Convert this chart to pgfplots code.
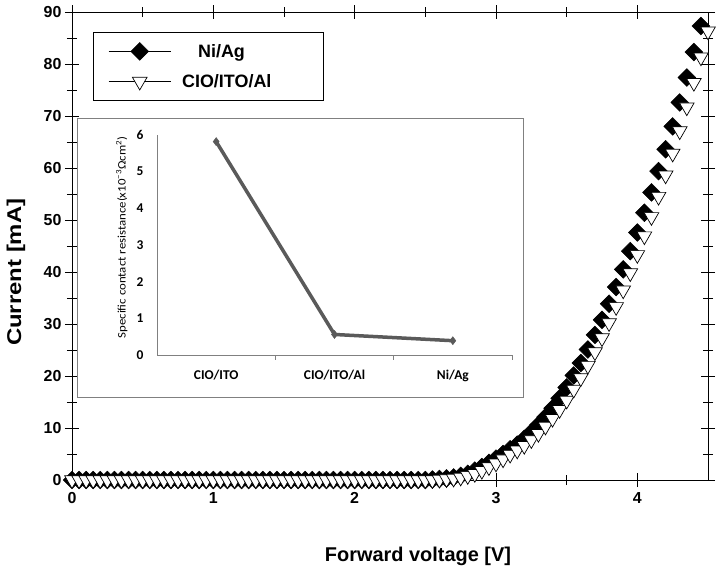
\documentclass[border=0pt]{standalone}
\usepackage{fontspec}
\setmainfont{Liberation Sans}
\newfontfamily\carlito{Carlito}
\usepackage{graphicx}
\usepackage{pgfplots}
\pgfplotsset{compat=1.18}
\usepackage{pgfplotstable}

\pgfplotsset{
  linemarklegend/.style={legend image code/.code={\draw[black, line width=0.7bp] (0bp,0bp) -- (62bp,0bp);
    \draw[##1] plot coordinates {(31bp,0bp)};}}
}

\pgfplotstableread{
V I
0.00 0
0.05 0
0.10 0
0.15 0
0.20 0
0.25 0
0.30 0
0.35 0
0.40 0
0.45 0
0.50 0
0.55 0
0.60 0
0.65 0
0.70 0
0.75 0
0.80 0
0.85 0
0.90 0
0.95 0
1.00 0
1.05 0
1.10 0
1.15 0
1.20 0
1.25 0
1.30 0
1.35 0
1.40 0
1.45 0
1.50 0
1.55 0
1.60 0
1.65 0
1.70 0
1.75 0
1.80 0
1.85 0
1.90 0
1.95 0
2.00 0
2.05 0
2.10 0
2.15 0
2.20 0
2.25 0
2.30 0
2.35 0
2.40 0
2.45 0
2.50 0
2.55 0.1
2.60 0.2
2.65 0.3
2.70 0.5
2.75 0.8
2.80 1.2
2.85 1.8
2.90 2.5
2.95 3.3
3.00 4.1
3.05 5.0
3.10 5.9
3.15 6.8
3.20 7.9
3.25 9.2
3.30 10.6
3.35 12.1
3.40 13.8
3.45 15.7
3.50 17.8
3.55 20.1
3.60 22.5
3.65 25.1
3.70 27.9
3.75 30.8
3.80 33.9
3.85 37.1
3.90 40.5
3.95 44.0
4.00 47.6
4.05 51.4
4.10 55.3
4.15 59.4
4.20 63.6
4.25 68.0
4.30 72.6
4.35 77.4
4.40 82.3
4.45 87.3
}\niag

\pgfplotstableread{
V I
0.00 0
0.05 0
0.10 0
0.15 0
0.20 0
0.25 0
0.30 0
0.35 0
0.40 0
0.45 0
0.50 0
0.55 0
0.60 0
0.65 0
0.70 0
0.75 0
0.80 0
0.85 0
0.90 0
0.95 0
1.00 0
1.05 0
1.10 0
1.15 0
1.20 0
1.25 0
1.30 0
1.35 0
1.40 0
1.45 0
1.50 0
1.55 0
1.60 0
1.65 0
1.70 0
1.75 0
1.80 0
1.85 0
1.90 0
1.95 0
2.00 0
2.05 0
2.10 0
2.15 0
2.20 0
2.25 0
2.30 0
2.35 0
2.40 0
2.45 0
2.50 0
2.55 0
2.60 0.1
2.65 0.2
2.70 0.3
2.75 0.5
2.80 0.8
2.85 1.2
2.90 1.8
2.95 2.5
3.00 3.2
3.05 4.0
3.10 4.9
3.15 5.7
3.20 6.6
3.25 7.7
3.30 8.9
3.35 10.3
3.40 11.8
3.45 13.5
3.50 15.3
3.55 17.4
3.60 19.6
3.65 22.0
3.70 24.6
3.75 27.3
3.80 30.2
3.85 33.3
3.90 36.5
3.95 39.8
4.00 43.3
4.05 46.9
4.10 50.6
4.15 54.5
4.20 58.6
4.25 62.8
4.30 67.1
4.35 71.7
4.40 76.4
4.45 81.3
4.50 86.3
}\cio

\definecolor{insetline}{RGB}{90,90,90}
\definecolor{insetframe}{RGB}{128,128,128}

\begin{document}
\begin{tikzpicture}
\useasboundingbox (-72bp,-87bp) rectangle (645bp,480bp);
% main axis
\begin{axis}[
  at={(0bp,0bp)}, anchor=south west,
  width=636bp, height=468bp, scale only axis,
  xmin=0, xmax=4.5, ymin=0, ymax=90,
  xtick={0,1,2,3,4}, ytick={0,10,...,90},
  minor x tick num=1, minor y tick num=1,
  xtick pos=both, ytick pos=both,
  xticklabel pos=left, yticklabel pos=left,
  tick align=center,
  major tick length=14bp, minor tick length=10bp,
  axis line style={line width=0.8bp, black},
  tick style={line width=0.9bp, black},
  clip=false,
  /pgf/number format/assume math mode=true,
  tick label style={font=\bfseries\fontsize{16}{16}\selectfont},
  xticklabel style={yshift=-2bp},
  every axis x label/.style={at={(axis description cs:0.544,-0.163)}, anchor=center},
  every axis y label/.style={at={(axis description cs:-0.088,0.444)}, anchor=center, rotate=90},
  label style={font=\bfseries\fontsize{20}{20}\selectfont},
  xlabel={Forward voltage [V]},
  ylabel={\scalebox{1.2}[1]{Current [mA]}},
  legend style={at={(axis description cs:0.033,0.957)}, anchor=north west,
    draw=black, line width=0.8bp, inner xsep=15bp, inner ysep=10bp,
    row sep=14bp, column sep=4bp,
    nodes={inner sep=0pt},
    font=\bfseries\fontsize{18}{18}\selectfont},
]
\addplot[only marks, mark=square*, mark size=6.3,
  mark options={rotate=45, fill=black, draw=black, line width=0.5bp},
  linemarklegend]
  table[x=V, y=I] {\niag};
\addlegendentry{\makebox[133bp][l]{\hspace{23bp}Ni/Ag}}
\addplot[only marks, mark=triangle*, mark size=8.5,
  mark options={rotate=180, fill=white, draw=black, line width=0.7bp},
  linemarklegend]
  table[x=V, y=I] {\cio};
\addlegendentry{\makebox[133bp][l]{\hspace{7bp}CIO/ITO/Al}}
\end{axis}
% inset frame
\draw[insetframe, fill=white, line width=0.9bp] (5bp,83bp) rectangle (451bp,362bp);
% inset axis
\begin{axis}[
  at={(85bp,125bp)}, anchor=south west,
  width=355bp, height=220bp, scale only axis,
  xmin=-0.5, xmax=2.5, ymin=0, ymax=6,
  axis x line*=bottom, axis y line*=left,
  axis line style={insetframe, line width=0.9bp},
  xtick={0,1,2}, xticklabels={CIO/ITO, CIO/ITO/Al, Ni/Ag},
  ytick={0,1,...,6},
  major tick length=0pt,
  extra x ticks={0.5,1.5,2.5}, extra x tick labels={},
  extra x tick style={tick align=outside, major tick length=5bp, tick style={insetframe, line width=0.9bp}},
  /pgf/number format/assume math mode=true,
  tick label style={font=\carlito\bfseries\fontsize{13.5}{13.5}\selectfont},
  xticklabel style={yshift=-12bp},
  yticklabel style={xshift=-10bp},
  every axis y label/.style={at={(axis description cs:-0.099,0.534)}, anchor=center, rotate=90},
  ylabel={\scalebox{1.12}[1]{\carlito\fontsize{11.5}{11.5}\selectfont Specific contact resistance(x10\textsuperscript{−3}Ωcm\textsuperscript{2})}},
  clip=false,
]
\addplot[color=insetline, line width=3.5bp, mark=diamond*, mark size=4,
  mark options={fill=insetline, draw=insetline, line width=0.5bp}]
  coordinates {(0,5.82) (1,0.56) (2,0.39)};
\end{axis}
\end{tikzpicture}
\end{document}
